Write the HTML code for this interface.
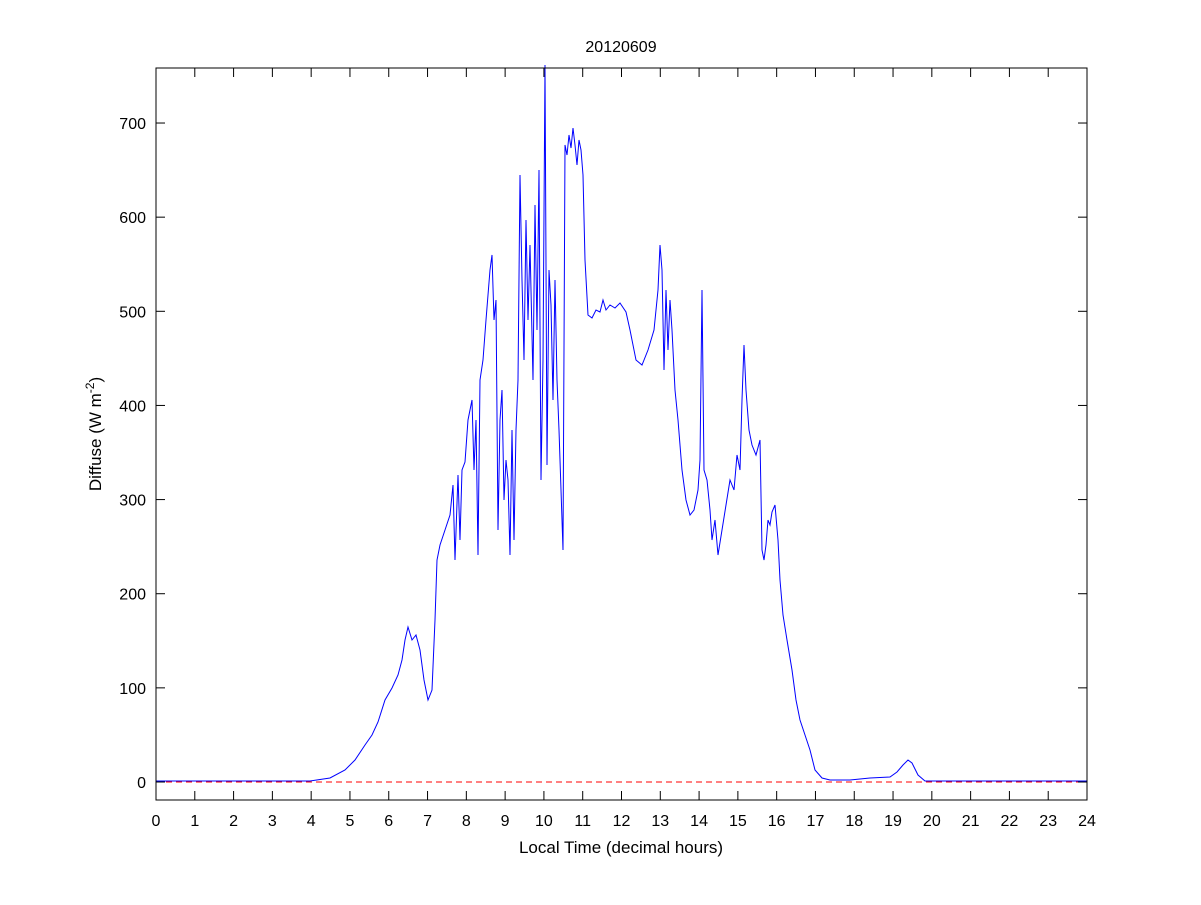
<!DOCTYPE html>
<html><head><meta charset="utf-8"><style>
body{margin:0;background:#fff;}
svg text{font-family:"Liberation Sans",Arial,sans-serif;fill:#000;}
</style></head><body>
<svg width="1201" height="900" xmlns="http://www.w3.org/2000/svg">
<rect width="1201" height="900" fill="#fff"/>
<line x1="156" y1="782" x2="1087" y2="782" stroke="#ff0000" stroke-width="1" stroke-dasharray="6,4"/>
<polyline fill="none" stroke="#0000ff" stroke-width="1" points="156,781 310,781 330,778 345,770 355,760 365,745 372,735 378,722 385,700 392,688 398,675 402,660 405,640 408,627 412,640 416,635 420,650 424,680 428,700 432,690 435,620 437,560 440,545 445,530 450,515 453,485 455,560 458,475 460,540 462,470 465,462 468,420 472,400 474,470 476,420 478,555 480,380 483,360 486,320 490,270 492,255 494,320 496,300 498,530 500,420 502,390 504,500 506,460 508,480 510,555 512,430 514,540 516,430 518,380 520,175 522,280 524,360 526,220 528,320 530,245 533,380 535,205 537,330 539,170 541,480 543,360 545,65 547,465 549,270 551,305 553,400 555,280 557,380 559,430 561,490 563,550 565,145 567,155 569,135 571,148 573,128 575,145 577,165 579,140 581,150 583,175 585,260 588,315 592,318 596,310 600,312 603,300 606,310 610,305 615,308 620,303 626,312 630,330 636,360 642,365 648,350 654,330 658,290 660,245 662,270 664,370 666,290 668,350 670,300 672,330 675,390 678,420 682,470 686,500 690,515 694,510 698,490 700,460 702,290 704,470 707,480 710,510 712,540 715,520 718,555 722,530 726,505 730,480 734,490 737,455 740,470 742,400 744,345 746,390 749,430 752,445 756,455 760,440 762,550 764,560 766,545 768,520 770,525 772,512 775,505 778,540 780,580 783,615 787,640 792,670 796,700 800,720 805,735 810,750 815,770 822,778 830,780 850,780 870,778 890,777 897,772 903,765 908,760 912,763 918,775 925,781 1087,781"/>
<rect x="156" y="68" width="931" height="732" fill="none" stroke="#000" stroke-width="1"/>
<g id="xt" stroke="#000" stroke-width="1"></g>
<g id="yt" stroke="#000" stroke-width="1"></g>
<g id="xl" font-size="16" text-anchor="middle"></g>
<g id="yl" font-size="16" text-anchor="end"></g>
<text x="621" y="52" font-size="16" text-anchor="middle">20120609</text>
<text x="621" y="853" font-size="17" text-anchor="middle">Local Time (decimal hours)</text>
<text transform="translate(101,434) rotate(-90)" font-size="17" text-anchor="middle">Diffuse (W m<tspan baseline-shift="super" font-size="12">-2</tspan>)</text>
</svg>
<script>
var ns="http://www.w3.org/2000/svg";
function el(p,t,a,txt){var e=document.createElementNS(ns,t);for(var k in a)e.setAttribute(k,a[k]);if(txt!==undefined)e.textContent=txt;document.getElementById(p).appendChild(e);}
for(var i=0;i<=24;i++){var x=156+i*931/24;
el("xt","line",{x1:x,y1:800,x2:x,y2:791});el("xt","line",{x1:x,y1:68,x2:x,y2:77});
el("xl","text",{x:x,y:826},String(i));}
for(var v=0;v<=700;v+=100){var y=782-v*0.9414;
el("yt","line",{x1:156,y1:y,x2:165,y2:y});el("yt","line",{x1:1087,y1:y,x2:1078,y2:y});
el("yl","text",{x:146,y:y+6},String(v));}
</script>
</body></html>
